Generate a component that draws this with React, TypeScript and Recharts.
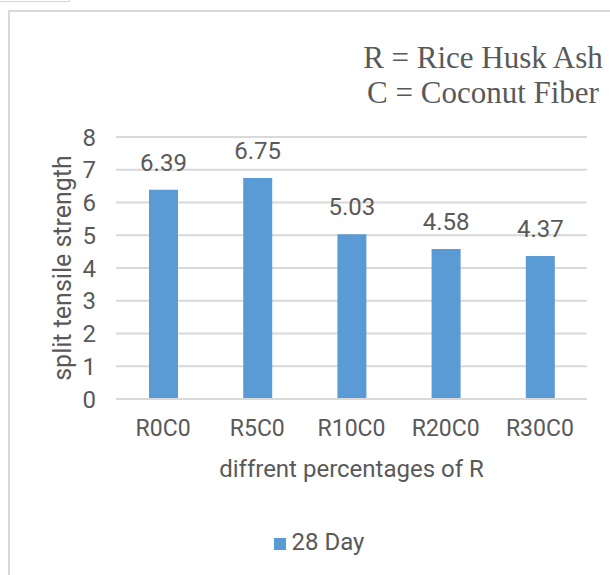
import { BarChart, Bar, XAxis, YAxis, CartesianGrid, Legend, LabelList } from "recharts";

const categories = ["R0C0", "R5C0", "R10C0", "R20C0", "R30C0"];
const day28 = [6.39, 6.75, 5.03, 4.58, 4.37];
const yTicks = [0, 1, 2, 3, 4, 5, 6, 7, 8];
const noteLines = ["R = Rice Husk Ash", "C = Coconut Fiber"];

const textColor = "#595959";
const gridColor = "#d9d9d9";
const barColor = "#5b9bd5";
const sans = "Roboto, 'Liberation Sans', sans-serif";

const data = categories.map((name, i) => ({ name, value: day28[i] }));

export default function App() {
  return (
    <div style={{ position: "fixed", left: 0, top: 0, width: 610, height: 575, background: "#fff", overflow: "hidden" }}>
      {/* little tab at top left */}
      <div style={{ position: "absolute", left: 0, top: -2, width: 69, height: 3, borderBottom: `1.5px solid ${gridColor}`, borderRight: `1.5px solid ${gridColor}` }} />
      {/* chart frame */}
      <div style={{ position: "absolute", left: 8, top: 10, width: 620, height: 600, border: `2px solid ${gridColor}` }} />

      <div style={{ position: "absolute", left: 0, top: 0 }}>
        <BarChart width={610} height={575} data={data} margin={{ top: 137, right: 23, bottom: 118, left: 0 }}>
          <CartesianGrid vertical={false} stroke={gridColor} strokeWidth={2} />
          <XAxis
            dataKey="name"
            height={30}
            axisLine={{ stroke: gridColor, strokeWidth: 2 }}
            tickLine={false}
            tickSize={6}
            tickMargin={15}
            tick={{ fill: textColor, fontSize: 23, fontFamily: sans }}
            label={{ value: "diffrent percentages of R", position: "bottom", offset: 31, fill: textColor, fontSize: 24, fontFamily: sans }}
          />
          <YAxis
            width={116}
            domain={[0, 8]}
            ticks={yTicks}
            interval={0}
            axisLine={false}
            tickLine={false}
            tickSize={6}
            tickMargin={14}
            tick={{ fill: textColor, fontSize: 24, fontFamily: sans }}
            label={{ value: "split tensile strength", angle: -90, position: "insideLeft", offset: 62, fill: textColor, fontSize: 25, fontFamily: sans, style: { textAnchor: "middle" } }}
          />
          <Legend
            iconType="square"
            iconSize={12}
            wrapperStyle={{ position: "absolute", top: 528, left: 38, width: 572, fontFamily: sans, fontSize: 24 }}
            formatter={(v) => <span style={{ color: textColor, marginLeft: 2 }}>{v}</span>}
          />
          <Bar dataKey="value" name="28 Day" fill={barColor} barSize={29} isAnimationActive={false}>
            <LabelList dataKey="value" position="top" offset={19} fill={textColor} fontSize={24} fontFamily={sans} />
          </Bar>
        </BarChart>
      </div>

      <div style={{ position: "absolute", left: 333, top: 40, width: 300, textAlign: "center", fontFamily: "'Liberation Serif', 'Times New Roman', serif", fontSize: 31, lineHeight: "35px", color: textColor, whiteSpace: "nowrap" }}>
        {noteLines.map((t) => (
          <div key={t}>{t}</div>
        ))}
      </div>
    </div>
  );
}
